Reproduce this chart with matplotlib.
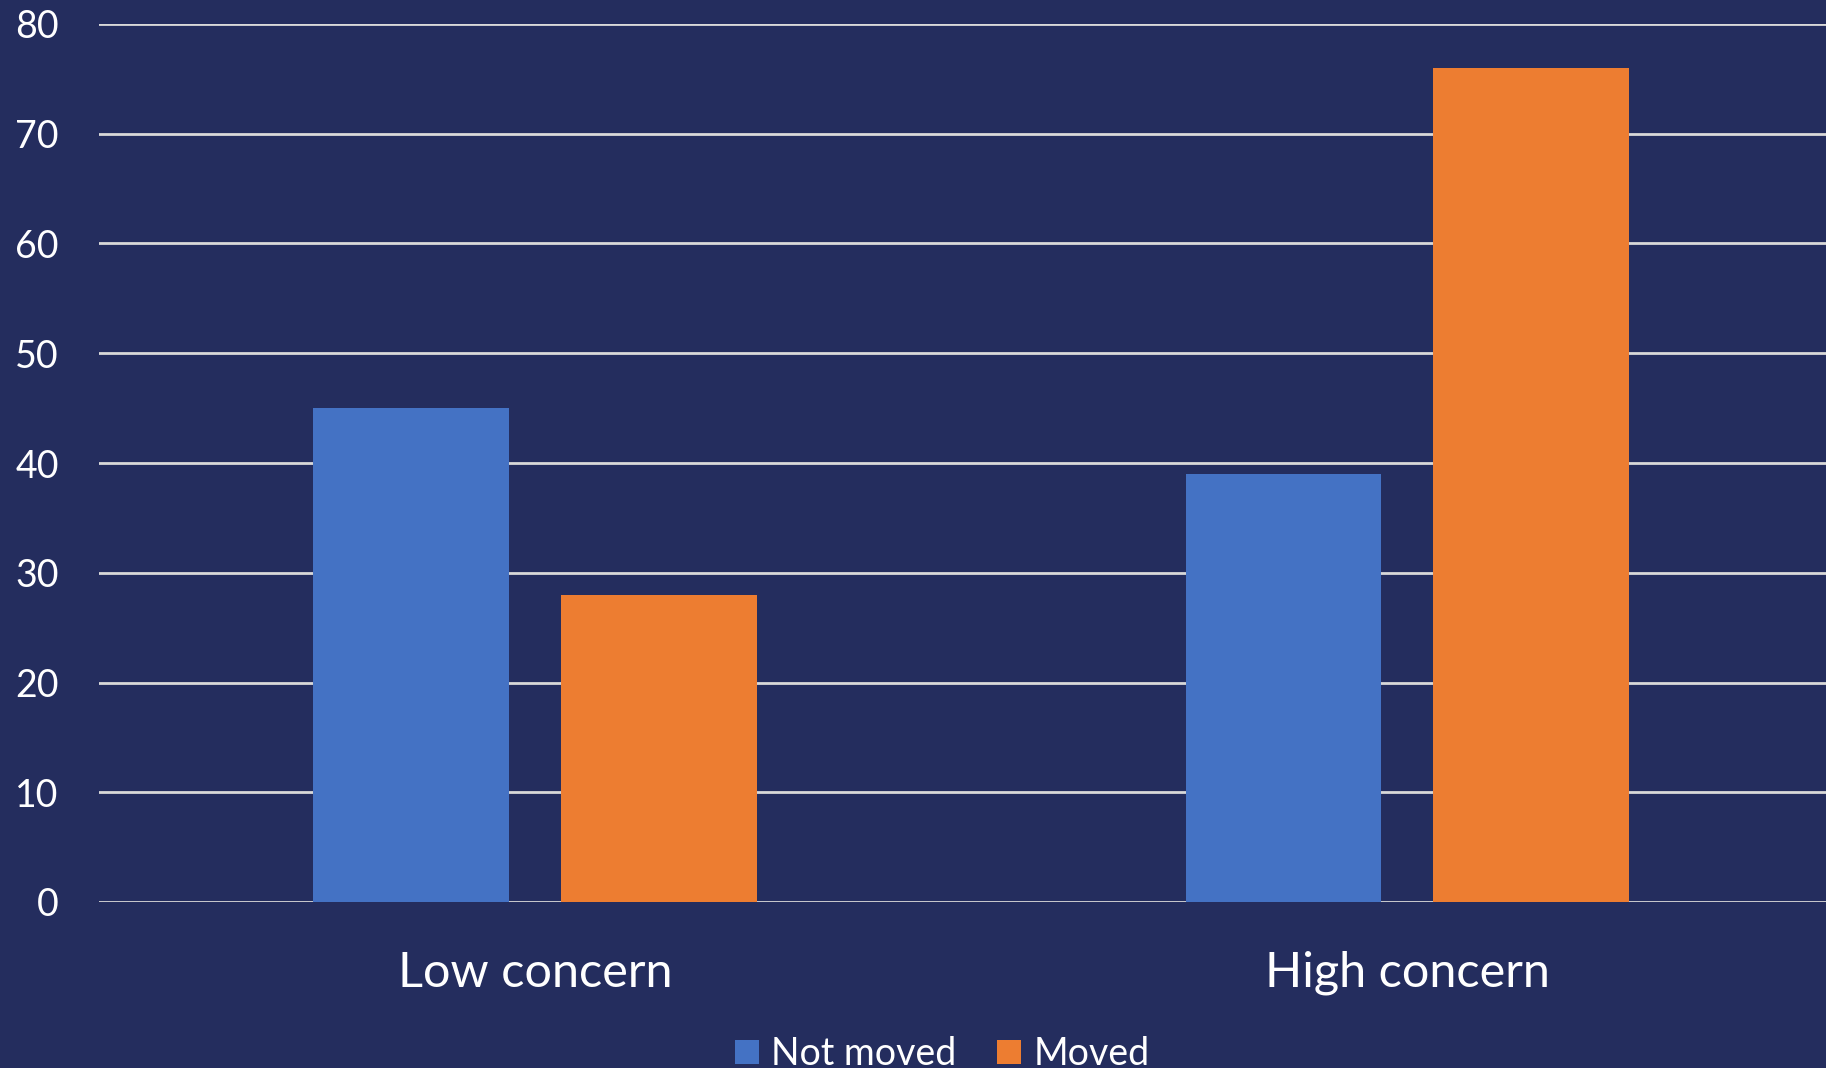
import numpy as np
import matplotlib.pyplot as plt

categories = ["Low concern", "High concern"]
not_moved = [45, 39]
moved = [28, 76]
series_names = ["Not moved", "Moved"]
y_ticks = [0, 10, 20, 30, 40, 50, 60, 70, 80]

bg = "#242D5E"
blue = "#4472C4"
orange = "#ED7D31"
grid_col = "#D9D9D9"

plt.rcParams['font.family'] = ['Lato', 'DejaVu Sans']

fig = plt.figure(figsize=(18.26, 10.68), dpi=100, facecolor=bg)
ax = fig.add_axes([99 / 1826, 166 / 1068, 1 - 99 / 1826, (902 - 24) / 1068])
ax.set_facecolor(bg)

x = np.arange(len(categories))
width = 0.2245
offset = 0.142

# horizontal gridlines, the 0 line doubles as the baseline
for t in y_ticks:
    ax.axhline(t, color=grid_col, lw=2, zorder=0)

ax.bar(x - offset, not_moved, width, color=blue, label=series_names[0], zorder=2)
ax.bar(x + offset, moved, width, color=orange, label=series_names[1], zorder=2)

ax.set_xlim(-0.5, 1.48)
ax.set_ylim(0, 80)
ax.set_yticks(y_ticks)
ax.set_xticks(x)
ax.set_xticklabels(categories)

for s in ax.spines.values():
    s.set_visible(False)

ax.tick_params(axis='y', length=0, pad=29, labelsize=27, labelcolor='white')
ax.tick_params(axis='x', length=0, pad=35, labelsize=35, labelcolor='white')

fig.legend(loc='lower center', bbox_to_anchor=(942 / 1826, -0.004), ncol=2,
           frameon=False, fontsize=27, labelcolor='white',
           handlelength=0.64, handleheight=0.64, handletextpad=0.32,
           columnspacing=1.1, borderaxespad=0, borderpad=0)

fig.savefig("out.png", dpi=100, facecolor=bg)
